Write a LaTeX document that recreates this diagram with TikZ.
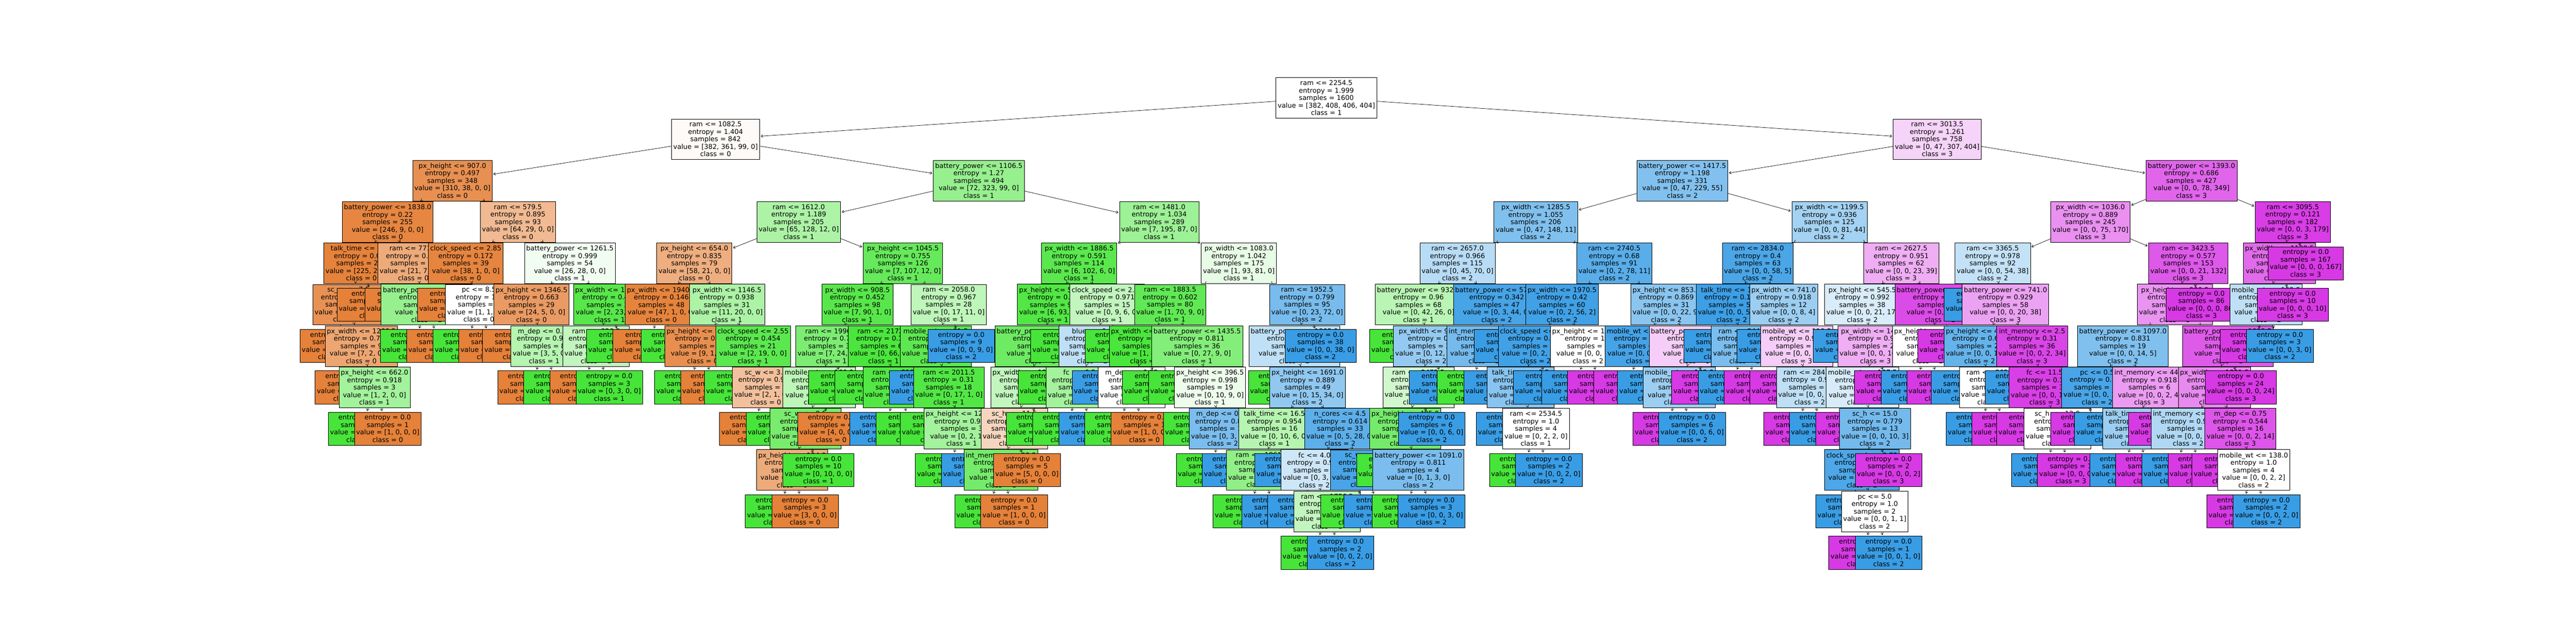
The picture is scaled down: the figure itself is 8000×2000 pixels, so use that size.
\documentclass[tikz,border=0pt]{standalone}
\usepackage{fontspec}
\setmainfont{DejaVu Sans}
\usepackage{tikz}
\usetikzlibrary{arrows.meta}
\definecolor{c0}{HTML}{E58139}
\definecolor{c1}{HTML}{47E539}
\definecolor{c2}{HTML}{399DE5}
\definecolor{c3}{HTML}{D739E5}
\newcommand{\tsplit}[5]{#1\\entropy = #2\\samples = #3\\value = [#4]\\class = #5}
\newcommand{\tleaf}[3]{entropy = 0.0\\samples = #1\\value = [#2]\\class = #3}
\tikzset{
  box/.style={draw, line width=0.55pt, anchor=west, align=center, inner xsep=2.75pt, inner ysep=4.35pt, font=\fontsize{10.4pt}{11.6pt}\selectfont},
  arr/.style={-{Straight Barb[length=3pt, width=4.2pt]}, line width=0.55pt, shorten >=1.5pt}
}

\begin{document}
\begin{tikzpicture}[x=0.5pt, y=-0.5pt]
\useasboundingbox (0,0) rectangle (8000,2000);

% root
\node [box, fill=white] (t) at (3962, 304) {\tsplit{ram <= 2254.5}{1.999}{1600}{382, 408, 406, 404}{1}};

% left half
\node [box, fill=c0!4] (tl) at (2085, 432.4) {\tsplit{ram <= 1082.5}{1.404}{842}{382, 361, 99, 0}{0}};
\draw [arr] (t) -- (tl);
\node [box, fill=c0!88] (tll) at (1281, 560.8) {\tsplit{px\_height <= 907.0}{0.497}{348}{310, 38, 0, 0}{0}};
\draw [arr] (tl) -- (tll);
\node [box, fill=c0!96] (tlll) at (1062, 689.2) {\tsplit{battery\_power <= 1838.0}{0.22}{255}{246, 9, 0, 0}{0}};
\draw [arr] (tll) -- (tlll);
\node [box, fill=c0!99] (tllll) at (1005, 817.6) {\tsplit{talk\_time <= 19.5}{0.073}{227}{225, 2, 0, 0}{0}};
\draw [arr] (tlll) -- (tllll);
\node [box, fill=c0!87] (tlllll) at (971, 946) {\tsplit{sc\_w <= 7.5}{0.523}{17}{15, 2, 0, 0}{0}};
\draw [arr] (tllll) -- (tlllll);
\node [box, fill=c0] (tllllll) at (931, 1074.4) {\tleaf{8}{8, 0, 0, 0}{0}};
\draw [arr] (tlllll) -- (tllllll);
\node [box, fill=c0!71] (tlllllr) at (1009, 1074.4) {\tsplit{px\_width <= 1266.5}{0.764}{9}{7, 2, 0, 0}{0}};
\draw [arr] (tlllll) -- (tlllllr);
\node [box, fill=c0] (tlllllrl) at (978, 1202.8) {\tleaf{6}{6, 0, 0, 0}{0}};
\draw [arr] (tlllllr) -- (tlllllrl);
\node [box, fill=c1!50] (tlllllrr) at (1052, 1202.8) {\tsplit{px\_height <= 662.0}{0.918}{3}{1, 2, 0, 0}{1}};
\draw [arr] (tlllllr) -- (tlllllrr);
\node [box, fill=c1] (tlllllrrl) at (1019, 1331.2) {\tleaf{2}{0, 2, 0, 0}{1}};
\draw [arr] (tlllllrr) -- (tlllllrrl);
\node [box, fill=c0] (tlllllrrr) at (1100, 1331.2) {\tleaf{1}{1, 0, 0, 0}{0}};
\draw [arr] (tlllllrr) -- (tlllllrrr);
\node [box, fill=c0] (tllllr) at (1046, 946) {\tleaf{210}{210, 0, 0, 0}{0}};
\draw [arr] (tllll) -- (tllllr);
\node [box, fill=c0!67] (tlllr) at (1173, 817.6) {\tsplit{ram <= 771.5}{0.811}{28}{21, 7, 0, 0}{0}};
\draw [arr] (tlll) -- (tlllr);
\node [box, fill=c0] (tlllrl) at (1133, 946) {\tleaf{18}{18, 0, 0, 0}{0}};
\draw [arr] (tlllr) -- (tlllrl);
\node [box, fill=c1!57] (tlllrr) at (1183, 946) {\tsplit{battery\_power <= 1519.0}{0.881}{10}{3, 7, 0, 0}{1}};
\draw [arr] (tlllr) -- (tlllrr);
\node [box, fill=c1] (tlllrrl) at (1181, 1074.4) {\tleaf{7}{0, 7, 0, 0}{1}};
\draw [arr] (tlllrr) -- (tlllrrl);
\node [box, fill=c0] (tlllrrr) at (1262, 1074.4) {\tleaf{3}{3, 0, 0, 0}{0}};
\draw [arr] (tlllrr) -- (tlllrrr);
\node [box, fill=c0!55] (tllr) at (1491, 689.2) {\tsplit{ram <= 579.5}{0.895}{93}{64, 29, 0, 0}{0}};
\draw [arr] (tll) -- (tllr);
\node [box, fill=c0!97] (tllrl) at (1330, 817.6) {\tsplit{clock\_speed <= 2.85}{0.172}{39}{38, 1, 0, 0}{0}};
\draw [arr] (tllr) -- (tllrl);
\node [box, fill=c0] (tllrll) at (1296, 946) {\tleaf{37}{37, 0, 0, 0}{0}};
\draw [arr] (tllrl) -- (tllrll);
\node [box, fill=white] (tllrlr) at (1383, 946) {\tsplit{pc <= 8.5}{1.0}{2}{1, 1, 0, 0}{0}};
\draw [arr] (tllrl) -- (tllrlr);
\node [box, fill=c1] (tllrlrl) at (1344, 1074.4) {\tleaf{1}{0, 1, 0, 0}{1}};
\draw [arr] (tllrlr) -- (tllrlrl);
\node [box, fill=c0] (tllrlrr) at (1424, 1074.4) {\tleaf{1}{1, 0, 0, 0}{0}};
\draw [arr] (tllrlr) -- (tllrlrr);
\node [box, fill=c1!7] (tllrr) at (1628, 817.6) {\tsplit{battery\_power <= 1261.5}{0.999}{54}{26, 28, 0, 0}{1}};
\draw [arr] (tllr) -- (tllrr);
\node [box, fill=c0!79] (tllrrl) at (1533, 946) {\tsplit{px\_height <= 1346.5}{0.663}{29}{24, 5, 0, 0}{0}};
\draw [arr] (tllrr) -- (tllrrl);
\node [box, fill=c0] (tllrrll) at (1498, 1074.4) {\tleaf{21}{21, 0, 0, 0}{0}};
\draw [arr] (tllrrl) -- (tllrrll);
\node [box, fill=c1!40] (tllrrlr) at (1586, 1074.4) {\tsplit{m\_dep <= 0.15}{0.954}{8}{3, 5, 0, 0}{1}};
\draw [arr] (tllrrl) -- (tllrrlr);
\node [box, fill=c0] (tllrrlrl) at (1545, 1202.8) {\tleaf{3}{3, 0, 0, 0}{0}};
\draw [arr] (tllrrlr) -- (tllrrlrl);
\node [box, fill=c1] (tllrrlrr) at (1626, 1202.8) {\tleaf{5}{0, 5, 0, 0}{1}};
\draw [arr] (tllrrlr) -- (tllrrlrr);
\node [box, fill=c1!91] (tllrrr) at (1780, 946) {\tsplit{px\_width <= 1119.5}{0.402}{25}{2, 23, 0, 0}{1}};
\draw [arr] (tllrr) -- (tllrrr);
\node [box, fill=c1!33] (tllrrrl) at (1747, 1074.4) {\tsplit{ram <= 826.5}{0.971}{5}{2, 3, 0, 0}{1}};
\draw [arr] (tllrrr) -- (tllrrrl);
\node [box, fill=c0] (tllrrrll) at (1707, 1202.8) {\tleaf{2}{2, 0, 0, 0}{0}};
\draw [arr] (tllrrrl) -- (tllrrrll);
\node [box, fill=c1] (tllrrrlr) at (1788, 1202.8) {\tleaf{3}{0, 3, 0, 0}{1}};
\draw [arr] (tllrrrl) -- (tllrrrlr);
\node [box, fill=c1] (tllrrrr) at (1821, 1074.4) {\tleaf{20}{0, 20, 0, 0}{1}};
\draw [arr] (tllrrr) -- (tllrrrr);
\node [box, fill=c1!57] (tlr) at (2898, 560.8) {\tsplit{battery\_power <= 1106.5}{1.27}{494}{72, 323, 99, 0}{1}};
\draw [arr] (tl) -- (tlr);
\node [box, fill=c1!45] (tlrl) at (2350, 689.2) {\tsplit{ram <= 1612.0}{1.189}{205}{65, 128, 12, 0}{1}};
\draw [arr] (tlr) -- (tlrl);
\node [box, fill=c0!64] (tlrll) at (2039, 817.6) {\tsplit{px\_height <= 654.0}{0.835}{79}{58, 21, 0, 0}{0}};
\draw [arr] (tlrl) -- (tlrll);
\node [box, fill=c0!98] (tlrlll) at (1941, 946) {\tsplit{px\_width <= 1940.5}{0.146}{48}{47, 1, 0, 0}{0}};
\draw [arr] (tlrll) -- (tlrlll);
\node [box, fill=c0] (tlrllll) at (1903, 1074.4) {\tleaf{47}{47, 0, 0, 0}{0}};
\draw [arr] (tlrlll) -- (tlrllll);
\node [box, fill=c1] (tlrlllr) at (1991, 1074.4) {\tleaf{1}{0, 1, 0, 0}{1}};
\draw [arr] (tlrlll) -- (tlrlllr);
\node [box, fill=c1!45] (tlrllr) at (2140, 946) {\tsplit{px\_width <= 1146.5}{0.938}{31}{11, 20, 0, 0}{1}};
\draw [arr] (tlrll) -- (tlrllr);
\node [box, fill=c0!89] (tlrllrl) at (2064, 1074.4) {\tsplit{px\_height <= 1413.5}{0.469}{10}{9, 1, 0, 0}{0}};
\draw [arr] (tlrllr) -- (tlrllrl);
\node [box, fill=c1] (tlrllrll) at (2032, 1202.8) {\tleaf{1}{0, 1, 0, 0}{1}};
\draw [arr] (tlrllrl) -- (tlrllrll);
\node [box, fill=c0] (tlrllrlr) at (2113, 1202.8) {\tleaf{9}{9, 0, 0, 0}{0}};
\draw [arr] (tlrllrl) -- (tlrllrlr);
\node [box, fill=c1!89] (tlrllrr) at (2222, 1074.4) {\tsplit{clock\_speed <= 2.55}{0.454}{21}{2, 19, 0, 0}{1}};
\draw [arr] (tlrllr) -- (tlrllrr);
\node [box, fill=c1] (tlrllrrl) at (2187, 1202.8) {\tleaf{18}{0, 18, 0, 0}{1}};
\draw [arr] (tlrllrr) -- (tlrllrrl);
\node [box, fill=c0!50] (tlrllrrr) at (2274, 1202.8) {\tsplit{sc\_w <= 3.5}{0.918}{3}{2, 1, 0, 0}{0}};
\draw [arr] (tlrllrr) -- (tlrllrrr);
\node [box, fill=c0] (tlrllrrrl) at (2234, 1331.2) {\tleaf{2}{2, 0, 0, 0}{0}};
\draw [arr] (tlrllrrr) -- (tlrllrrrl);
\node [box, fill=c1] (tlrllrrrr) at (2316, 1331.2) {\tleaf{1}{0, 1, 0, 0}{1}};
\draw [arr] (tlrllrrr) -- (tlrllrrrr);
\node [box, fill=c1!83] (tlrlr) at (2680, 817.6) {\tsplit{px\_height <= 1045.5}{0.755}{126}{7, 107, 12, 0}{1}};
\draw [arr] (tlrl) -- (tlrlr);
\node [box, fill=c1!91] (tlrlrl) at (2552, 946) {\tsplit{px\_width <= 908.5}{0.452}{98}{7, 90, 1, 0}{1}};
\draw [arr] (tlrlr) -- (tlrlrl);
\node [box, fill=c1!71] (tlrlrll) at (2471, 1074.4) {\tsplit{ram <= 1996.5}{0.771}{31}{7, 24, 0, 0}{1}};
\draw [arr] (tlrlrl) -- (tlrlrll);
\node [box, fill=c1!36] (tlrlrlll) at (2431, 1202.8) {\tsplit{mobile\_wt <= 160.0}{0.964}{18}{7, 11, 0, 0}{1}};
\draw [arr] (tlrlrll) -- (tlrlrlll);
\node [box, fill=c1!73] (tlrlrllll) at (2390, 1331.2) {\tsplit{sc\_w <= 8.5}{0.75}{14}{3, 11, 0, 0}{1}};
\draw [arr] (tlrlrlll) -- (tlrlrllll);
\node [box, fill=c0!67] (tlrlrlllll) at (2349, 1459.6) {\tsplit{px\_height <= 124.0}{0.811}{4}{3, 1, 0, 0}{0}};
\draw [arr] (tlrlrllll) -- (tlrlrlllll);
\node [box, fill=c1] (tlrlrllllll) at (2314, 1588) {\tleaf{1}{0, 1, 0, 0}{1}};
\draw [arr] (tlrlrlllll) -- (tlrlrllllll);
\node [box, fill=c0] (tlrlrlllllr) at (2396, 1588) {\tleaf{3}{3, 0, 0, 0}{0}};
\draw [arr] (tlrlrlllll) -- (tlrlrlllllr);
\node [box, fill=c1] (tlrlrllllr) at (2431, 1459.6) {\tleaf{10}{0, 10, 0, 0}{1}};
\draw [arr] (tlrlrllll) -- (tlrlrllllr);
\node [box, fill=c0] (tlrlrlllr) at (2477, 1331.2) {\tleaf{4}{4, 0, 0, 0}{0}};
\draw [arr] (tlrlrlll) -- (tlrlrlllr);
\node [box, fill=c1] (tlrlrllr) at (2510, 1202.8) {\tleaf{13}{0, 13, 0, 0}{1}};
\draw [arr] (tlrlrll) -- (tlrlrllr);
\node [box, fill=c1!98] (tlrlrlr) at (2633, 1074.4) {\tsplit{ram <= 2172.0}{0.112}{67}{0, 66, 1, 0}{1}};
\draw [arr] (tlrlrl) -- (tlrlrlr);
\node [box, fill=c1] (tlrlrlrl) at (2592, 1202.8) {\tleaf{50}{0, 50, 0, 0}{1}};
\draw [arr] (tlrlrlr) -- (tlrlrlrl);
\node [box, fill=c1!94] (tlrlrlrr) at (2680, 1202.8) {\tsplit{ram <= 2183.5}{0.323}{17}{0, 16, 1, 0}{1}};
\draw [arr] (tlrlrlr) -- (tlrlrlrr);
\node [box, fill=c2] (tlrlrlrrl) at (2638, 1331.2) {\tleaf{1}{0, 0, 1, 0}{2}};
\draw [arr] (tlrlrlrr) -- (tlrlrlrrl);
\node [box, fill=c1] (tlrlrlrrr) at (2720, 1331.2) {\tleaf{16}{0, 16, 0, 0}{1}};
\draw [arr] (tlrlrlrr) -- (tlrlrlrrr);
\node [box, fill=c1!35] (tlrlrr) at (2829, 946) {\tsplit{ram <= 2058.0}{0.967}{28}{0, 17, 11, 0}{1}};
\draw [arr] (tlrlr) -- (tlrlrr);
\node [box, fill=c1!88] (tlrlrrl) at (2795, 1074.4) {\tsplit{mobile\_wt <= 81.5}{0.485}{19}{0, 17, 2, 0}{1}};
\draw [arr] (tlrlrr) -- (tlrlrrl);
\node [box, fill=c2] (tlrlrrll) at (2762, 1202.8) {\tleaf{1}{0, 0, 1, 0}{2}};
\draw [arr] (tlrlrrl) -- (tlrlrrll);
\node [box, fill=c1!94] (tlrlrrlr) at (2836, 1202.8) {\tsplit{ram <= 2011.5}{0.31}{18}{0, 17, 1, 0}{1}};
\draw [arr] (tlrlrrl) -- (tlrlrrlr);
\node [box, fill=c1] (tlrlrrlrl) at (2795, 1331.2) {\tleaf{15}{0, 15, 0, 0}{1}};
\draw [arr] (tlrlrrlr) -- (tlrlrrlrl);
\node [box, fill=c1!50] (tlrlrrlrr) at (2869, 1331.2) {\tsplit{px\_height <= 1237.5}{0.918}{3}{0, 2, 1, 0}{1}};
\draw [arr] (tlrlrrlr) -- (tlrlrrlrr);
\node [box, fill=c1] (tlrlrrlrrl) at (2842, 1459.6) {\tleaf{2}{0, 2, 0, 0}{1}};
\draw [arr] (tlrlrrlrr) -- (tlrlrrlrrl);
\node [box, fill=c2] (tlrlrrlrrr) at (2923, 1459.6) {\tleaf{1}{0, 0, 1, 0}{2}};
\draw [arr] (tlrlrrlrr) -- (tlrlrrlrrr);
\node [box, fill=c2] (tlrlrrr) at (2881, 1074.4) {\tleaf{9}{0, 0, 9, 0}{2}};
\draw [arr] (tlrlrr) -- (tlrlrrr);
\node [box, fill=c1!53] (tlrr) at (3476, 689.2) {\tsplit{ram <= 1481.0}{1.034}{289}{7, 195, 87, 0}{1}};
\draw [arr] (tlr) -- (tlrr);
\node [box, fill=c1!89] (tlrrl) at (3234, 817.6) {\tsplit{px\_width <= 1886.5}{0.591}{114}{6, 102, 6, 0}{1}};
\draw [arr] (tlrr) -- (tlrrl);
\node [box, fill=c1!94] (tlrrll) at (3159, 946) {\tsplit{px\_height <= 527.5}{0.33}{99}{6, 93, 0, 0}{1}};
\draw [arr] (tlrrl) -- (tlrrll);
\node [box, fill=c1!79] (tlrrlll) at (3089, 1074.4) {\tsplit{battery\_power <= 1794.5}{0.661}{35}{6, 29, 0, 0}{1}};
\draw [arr] (tlrrll) -- (tlrrlll);
\node [box, fill=c1!33] (tlrrllll) at (3076, 1202.8) {\tsplit{px\_width <= 1228.0}{0.971}{15}{6, 9, 0, 0}{1}};
\draw [arr] (tlrrlll) -- (tlrrllll);
\node [box, fill=c0!33] (tlrrlllll) at (3046, 1331.2) {\tsplit{sc\_h <= 11.5}{0.971}{10}{6, 4, 0, 0}{0}};
\draw [arr] (tlrrllll) -- (tlrrlllll);
\node [box, fill=c1!75] (tlrrllllll) at (2993, 1459.6) {\tsplit{int\_memory <= 53.5}{0.722}{5}{1, 4, 0, 0}{1}};
\draw [arr] (tlrrlllll) -- (tlrrllllll);
\node [box, fill=c1] (tlrrlllllll) at (2964, 1588) {\tleaf{4}{0, 4, 0, 0}{1}};
\draw [arr] (tlrrllllll) -- (tlrrlllllll);
\node [box, fill=c0] (tlrrllllllr) at (3045, 1588) {\tleaf{1}{1, 0, 0, 0}{0}};
\draw [arr] (tlrrllllll) -- (tlrrllllllr);
\node [box, fill=c0] (tlrrlllllr) at (3085, 1459.6) {\tleaf{5}{5, 0, 0, 0}{0}};
\draw [arr] (tlrrlllll) -- (tlrrlllllr);
\node [box, fill=c1] (tlrrllllr) at (3124, 1331.2) {\tleaf{5}{0, 5, 0, 0}{1}};
\draw [arr] (tlrrllll) -- (tlrrllllr);
\node [box, fill=c1] (tlrrlllr) at (3161, 1202.8) {\tleaf{20}{0, 20, 0, 0}{1}};
\draw [arr] (tlrrlll) -- (tlrrlllr);
\node [box, fill=c1] (tlrrllr) at (3200, 1074.4) {\tleaf{64}{0, 64, 0, 0}{1}};
\draw [arr] (tlrrll) -- (tlrrllr);
\node [box, fill=c1!33] (tlrrlr) at (3322, 946) {\tsplit{clock\_speed <= 2.05}{0.971}{15}{0, 9, 6, 0}{1}};
\draw [arr] (tlrrl) -- (tlrrlr);
\node [box, fill=c2!33] (tlrrlrl) at (3288, 1074.4) {\tsplit{blue <= 0.5}{0.971}{10}{0, 4, 6, 0}{2}};
\draw [arr] (tlrrlr) -- (tlrrlrl);
\node [box, fill=c1!50] (tlrrlrll) at (3248, 1202.8) {\tsplit{fc <= 6.5}{0.918}{6}{0, 4, 2, 0}{1}};
\draw [arr] (tlrrlrl) -- (tlrrlrll);
\node [box, fill=c1] (tlrrlrlll) at (3206, 1331.2) {\tleaf{4}{0, 4, 0, 0}{1}};
\draw [arr] (tlrrlrll) -- (tlrrlrlll);
\node [box, fill=c2] (tlrrlrllr) at (3288, 1331.2) {\tleaf{2}{0, 0, 2, 0}{2}};
\draw [arr] (tlrrlrll) -- (tlrrlrllr);
\node [box, fill=c2] (tlrrlrlr) at (3329, 1202.8) {\tleaf{4}{0, 0, 4, 0}{2}};
\draw [arr] (tlrrlrl) -- (tlrrlrlr);
\node [box, fill=c1] (tlrrlrr) at (3369, 1074.4) {\tleaf{5}{0, 5, 0, 0}{1}};
\draw [arr] (tlrrlr) -- (tlrrlrr);
\node [box, fill=c1!13] (tlrrr) at (3730, 817.6) {\tsplit{px\_width <= 1083.0}{1.042}{175}{1, 93, 81, 0}{1}};
\draw [arr] (tlrr) -- (tlrrr);
\node [box, fill=c1!86] (tlrrrl) at (3523, 946) {\tsplit{ram <= 1883.5}{0.602}{80}{1, 70, 9, 0}{1}};
\draw [arr] (tlrrr) -- (tlrrrl);
\node [box, fill=c1!98] (tlrrrll) at (3444, 1074.4) {\tsplit{px\_width <= 1763.0}{0.156}{44}{1, 43, 0, 0}{1}};
\draw [arr] (tlrrrl) -- (tlrrrll);
\node [box, fill=white] (tlrrrlll) at (3410, 1202.8) {\tsplit{m\_dep <= 0.85}{1.0}{2}{1, 1, 0, 0}{0}};
\draw [arr] (tlrrrll) -- (tlrrrlll);
\node [box, fill=c1] (tlrrrllll) at (3368, 1331.2) {\tleaf{1}{0, 1, 0, 0}{1}};
\draw [arr] (tlrrrlll) -- (tlrrrllll);
\node [box, fill=c0] (tlrrrlllr) at (3450, 1331.2) {\tleaf{1}{1, 0, 0, 0}{0}};
\draw [arr] (tlrrrlll) -- (tlrrrlllr);
\node [box, fill=c1] (tlrrrllr) at (3485, 1202.8) {\tleaf{42}{0, 42, 0, 0}{1}};
\draw [arr] (tlrrrll) -- (tlrrrllr);
\node [box, fill=c1!67] (tlrrrlr) at (3576, 1074.4) {\tsplit{battery\_power <= 1435.5}{0.811}{36}{0, 27, 9, 0}{1}};
\draw [arr] (tlrrrl) -- (tlrrrlr);
\node [box, fill=c1] (tlrrrlrl) at (3566, 1202.8) {\tleaf{17}{0, 17, 0, 0}{1}};
\draw [arr] (tlrrrlr) -- (tlrrrlrl);
\node [box, fill=c1!10] (tlrrrlrr) at (3647, 1202.8) {\tsplit{px\_height <= 396.5}{0.998}{19}{0, 10, 9, 0}{1}};
\draw [arr] (tlrrrlr) -- (tlrrrlrr);
\node [box, fill=c1] (tlrrrlrrl) at (3612, 1331.2) {\tleaf{7}{0, 7, 0, 0}{1}};
\draw [arr] (tlrrrlrr) -- (tlrrrlrrl);
\node [box, fill=c2!67] (tlrrrlrrr) at (3693, 1331.2) {\tsplit{m\_dep <= 0.45}{0.811}{12}{0, 3, 9, 0}{2}};
\draw [arr] (tlrrrlrr) -- (tlrrrlrrr);
\node [box, fill=c1] (tlrrrlrrrl) at (3652, 1459.6) {\tleaf{3}{0, 3, 0, 0}{1}};
\draw [arr] (tlrrrlrrr) -- (tlrrrlrrrl);
\node [box, fill=c2] (tlrrrlrrrr) at (3733, 1459.6) {\tleaf{9}{0, 0, 9, 0}{2}};
\draw [arr] (tlrrrlrrr) -- (tlrrrlrrrr);
\node [box, fill=c2!68] (tlrrrr) at (3942, 946) {\tsplit{ram <= 1952.5}{0.799}{95}{0, 23, 72, 0}{2}};
\draw [arr] (tlrrr) -- (tlrrrr);
\node [box, fill=c2!32] (tlrrrrl) at (3878, 1074.4) {\tsplit{battery\_power <= 1305.0}{0.973}{57}{0, 23, 34, 0}{2}};
\draw [arr] (tlrrrr) -- (tlrrrrl);
\node [box, fill=c1] (tlrrrrll) at (3876, 1202.8) {\tleaf{8}{0, 8, 0, 0}{1}};
\draw [arr] (tlrrrrl) -- (tlrrrrll);
\node [box, fill=c2!56] (tlrrrrlr) at (3943, 1202.8) {\tsplit{px\_height <= 1691.0}{0.889}{49}{0, 15, 34, 0}{2}};
\draw [arr] (tlrrrrl) -- (tlrrrrlr);
\node [box, fill=c1!40] (tlrrrrlrl) at (3847, 1331.2) {\tsplit{talk\_time <= 16.5}{0.954}{16}{0, 10, 6, 0}{1}};
\draw [arr] (tlrrrrlr) -- (tlrrrrlrl);
\node [box, fill=c1!60] (tlrrrrlrll) at (3808, 1459.6) {\tsplit{ram <= 1861.5}{0.863}{14}{0, 10, 4, 0}{1}};
\draw [arr] (tlrrrrlrl) -- (tlrrrrlrll);
\node [box, fill=c1] (tlrrrrlrlll) at (3767, 1588) {\tleaf{10}{0, 10, 0, 0}{1}};
\draw [arr] (tlrrrrlrll) -- (tlrrrrlrlll);
\node [box, fill=c2] (tlrrrrlrllr) at (3856, 1588) {\tleaf{4}{0, 0, 4, 0}{2}};
\draw [arr] (tlrrrrlrll) -- (tlrrrrlrllr);
\node [box, fill=c2] (tlrrrrlrlr) at (3896, 1459.6) {\tleaf{2}{0, 0, 2, 0}{2}};
\draw [arr] (tlrrrrlrl) -- (tlrrrrlrlr);
\node [box, fill=c2!82] (tlrrrrlrr) at (4051, 1331.2) {\tsplit{n\_cores <= 4.5}{0.614}{33}{0, 5, 28, 0}{2}};
\draw [arr] (tlrrrrlr) -- (tlrrrrlrr);
\node [box, fill=c2!25] (tlrrrrlrrl) at (3978, 1459.6) {\tsplit{fc <= 4.0}{0.985}{7}{0, 3, 4, 0}{2}};
\draw [arr] (tlrrrrlrr) -- (tlrrrrlrrl);
\node [box, fill=c2] (tlrrrrlrrll) at (3936, 1588) {\tleaf{2}{0, 0, 2, 0}{2}};
\draw [arr] (tlrrrrlrrl) -- (tlrrrrlrrll);
\node [box, fill=c1!33] (tlrrrrlrrlr) at (4017, 1588) {\tsplit{ram <= 1756.5}{0.971}{5}{0, 3, 2, 0}{1}};
\draw [arr] (tlrrrrlrrl) -- (tlrrrrlrrlr);
\node [box, fill=c1] (tlrrrrlrrlrl) at (3977, 1716.4) {\tleaf{3}{0, 3, 0, 0}{1}};
\draw [arr] (tlrrrrlrrlr) -- (tlrrrrlrrlrl);
\node [box, fill=c2] (tlrrrrlrrlrr) at (4059, 1716.4) {\tleaf{2}{0, 0, 2, 0}{2}};
\draw [arr] (tlrrrrlrrlr) -- (tlrrrrlrrlrr);
\node [box, fill=c2!92] (tlrrrrlrrr) at (4131, 1459.6) {\tsplit{sc\_w <= 2.5}{0.391}{26}{0, 2, 24, 0}{2}};
\draw [arr] (tlrrrrlrr) -- (tlrrrrlrrr);
\node [box, fill=c1] (tlrrrrlrrrl) at (4100, 1588) {\tleaf{2}{0, 2, 0, 0}{1}};
\draw [arr] (tlrrrrlrrr) -- (tlrrrrlrrrl);
\node [box, fill=c2] (tlrrrrlrrrr) at (4173, 1588) {\tleaf{24}{0, 0, 24, 0}{2}};
\draw [arr] (tlrrrrlrrr) -- (tlrrrrlrrrr);
\node [box, fill=c2] (tlrrrrr) at (3990, 1074.4) {\tleaf{38}{0, 0, 38, 0}{2}};
\draw [arr] (tlrrrr) -- (tlrrrrr);

% right half
\node [box, fill=c3!22] (tr) at (5879, 432.4) {\tsplit{ram <= 3013.5}{1.261}{758}{0, 47, 307, 404}{3}};
\draw [arr] (t) -- (tr);
\node [box, fill=c2!63] (trl) at (5083, 560.8) {\tsplit{battery\_power <= 1417.5}{1.198}{331}{0, 47, 229, 55}{2}};
\draw [arr] (tr) -- (trl);
\node [box, fill=c2!64] (trll) at (4639, 689.2) {\tsplit{px\_width <= 1285.5}{1.055}{206}{0, 47, 148, 11}{2}};
\draw [arr] (trl) -- (trll);
\node [box, fill=c2!36] (trlll) at (4409, 817.6) {\tsplit{ram <= 2657.0}{0.966}{115}{0, 45, 70, 0}{2}};
\draw [arr] (trll) -- (trlll);
\node [box, fill=c1!38] (trllll) at (4270, 946) {\tsplit{battery\_power <= 932.5}{0.96}{68}{0, 42, 26, 0}{1}};
\draw [arr] (trlll) -- (trllll);
\node [box, fill=c1] (trlllll) at (4253, 1074.4) {\tleaf{30}{0, 30, 0, 0}{1}};
\draw [arr] (trllll) -- (trlllll);
\node [box, fill=c2!54] (trllllr) at (4327, 1074.4) {\tsplit{px\_width <= 961.0}{0.9}{38}{0, 12, 26, 0}{2}};
\draw [arr] (trllll) -- (trllllr);
\node [box, fill=c1!25] (trllllrl) at (4294, 1202.8) {\tsplit{ram <= 2475.5}{0.985}{21}{0, 12, 9, 0}{1}};
\draw [arr] (trllllr) -- (trllllrl);
\node [box, fill=c1!75] (trllllrll) at (4253, 1331.2) {\tsplit{px\_height <= 485.0}{0.722}{15}{0, 12, 3, 0}{1}};
\draw [arr] (trllllrl) -- (trllllrll);
\node [box, fill=c1] (trllllrlll) at (4212, 1459.6) {\tleaf{11}{0, 11, 0, 0}{1}};
\draw [arr] (trllllrll) -- (trllllrlll);
\node [box, fill=c2!67] (trllllrllr) at (4263, 1459.6) {\tsplit{battery\_power <= 1091.0}{0.811}{4}{0, 1, 3, 0}{2}};
\draw [arr] (trllllrll) -- (trllllrllr);
\node [box, fill=c1] (trllllrllrl) at (4260, 1588) {\tleaf{1}{0, 1, 0, 0}{1}};
\draw [arr] (trllllrllr) -- (trllllrllrl);
\node [box, fill=c2] (trllllrllrr) at (4341, 1588) {\tleaf{3}{0, 0, 3, 0}{2}};
\draw [arr] (trllllrllr) -- (trllllrllrr);
\node [box, fill=c2] (trllllrlr) at (4342, 1331.2) {\tleaf{6}{0, 0, 6, 0}{2}};
\draw [arr] (trllllrl) -- (trllllrlr);
\node [box, fill=c2] (trllllrr) at (4376, 1202.8) {\tleaf{17}{0, 0, 17, 0}{2}};
\draw [arr] (trllllr) -- (trllllrr);
\node [box, fill=c2!93] (trlllr) at (4513, 946) {\tsplit{battery\_power <= 574.5}{0.342}{47}{0, 3, 44, 0}{2}};
\draw [arr] (trlll) -- (trlllr);
\node [box, fill=c2!70] (trlllrl) at (4493, 1074.4) {\tsplit{int\_memory <= 31.5}{0.779}{13}{0, 3, 10, 0}{2}};
\draw [arr] (trlllr) -- (trlllrl);
\node [box, fill=c1] (trlllrll) at (4462, 1202.8) {\tleaf{3}{0, 3, 0, 0}{1}};
\draw [arr] (trlllrl) -- (trlllrll);
\node [box, fill=c2] (trlllrlr) at (4545, 1202.8) {\tleaf{10}{0, 0, 10, 0}{2}};
\draw [arr] (trlllrl) -- (trlllrlr);
\node [box, fill=c2] (trlllrr) at (4577, 1074.4) {\tleaf{34}{0, 0, 34, 0}{2}};
\draw [arr] (trlllr) -- (trlllrr);
\node [box, fill=c2!84] (trllr) at (4896, 817.6) {\tsplit{ram <= 2740.5}{0.68}{91}{0, 2, 78, 11}{2}};
\draw [arr] (trll) -- (trllr);
\node [box, fill=c2!96] (trllrl) at (4738, 946) {\tsplit{px\_width <= 1970.5}{0.42}{60}{0, 2, 56, 2}{2}};
\draw [arr] (trllr) -- (trllrl);
\node [box, fill=c2!96] (trllrll) at (4652, 1074.4) {\tsplit{clock\_speed <= 0.95}{0.341}{58}{0, 2, 55, 1}{2}};
\draw [arr] (trllrl) -- (trllrll);
\node [box, fill=c2!60] (trllrlll) at (4618, 1202.8) {\tsplit{talk\_time <= 6.5}{0.863}{7}{0, 2, 5, 0}{2}};
\draw [arr] (trllrll) -- (trllrlll);
\node [box, fill=c2] (trllrllll) at (4584, 1331.2) {\tleaf{3}{0, 0, 3, 0}{2}};
\draw [arr] (trllrlll) -- (trllrllll);
\node [box, fill=white] (trllrlllr) at (4666, 1331.2) {\tsplit{ram <= 2534.5}{1.0}{4}{0, 2, 2, 0}{1}};
\draw [arr] (trllrlll) -- (trllrlllr);
\node [box, fill=c1] (trllrlllrl) at (4625, 1459.6) {\tleaf{2}{0, 2, 0, 0}{1}};
\draw [arr] (trllrlllr) -- (trllrlllrl);
\node [box, fill=c2] (trllrlllrr) at (4706, 1459.6) {\tleaf{2}{0, 0, 2, 0}{2}};
\draw [arr] (trllrlllr) -- (trllrlllrr);
\node [box, fill=c2] (trllrllr) at (4699, 1202.8) {\tleaf{51}{0, 0, 51, 0}{2}};
\draw [arr] (trllrll) -- (trllrllr);
\node [box, fill=white] (trllrlr) at (4814, 1074.4) {\tsplit{px\_height <= 1422.0}{1.0}{2}{0, 0, 1, 1}{2}};
\draw [arr] (trllrl) -- (trllrlr);
\node [box, fill=c2] (trllrlrl) at (4787, 1202.8) {\tleaf{1}{0, 0, 1, 0}{2}};
\draw [arr] (trllrlr) -- (trllrlrl);
\node [box, fill=c3] (trllrlrr) at (4867, 1202.8) {\tleaf{1}{0, 0, 0, 1}{3}};
\draw [arr] (trllrlr) -- (trllrlrr);
\node [box, fill=c2!59] (trllrr) at (5064, 946) {\tsplit{px\_height <= 853.5}{0.869}{31}{0, 0, 22, 9}{2}};
\draw [arr] (trllr) -- (trllrr);
\node [box, fill=c2!94] (trllrrl) at (4984, 1074.4) {\tsplit{mobile\_wt <= 195.5}{0.323}{17}{0, 0, 16, 1}{2}};
\draw [arr] (trllrr) -- (trllrrl);
\node [box, fill=c3] (trllrrll) at (4949, 1202.8) {\tleaf{1}{0, 0, 0, 1}{3}};
\draw [arr] (trllrrl) -- (trllrrll);
\node [box, fill=c2] (trllrrlr) at (5023, 1202.8) {\tleaf{16}{0, 0, 16, 0}{2}};
\draw [arr] (trllrrl) -- (trllrrlr);
\node [box, fill=c3!25] (trllrrr) at (5121, 1074.4) {\tsplit{battery\_power <= 1256.0}{0.985}{14}{0, 0, 6, 8}{3}};
\draw [arr] (trllrr) -- (trllrrr);
\node [box, fill=c2!50] (trllrrrl) at (5102, 1202.8) {\tsplit{mobile\_wt <= 102.0}{0.918}{9}{0, 0, 6, 3}{2}};
\draw [arr] (trllrrr) -- (trllrrrl);
\node [box, fill=c3] (trllrrrll) at (5071, 1331.2) {\tleaf{3}{0, 0, 0, 3}{3}};
\draw [arr] (trllrrrl) -- (trllrrrll);
\node [box, fill=c2] (trllrrrlr) at (5151, 1331.2) {\tleaf{6}{0, 0, 6, 0}{2}};
\draw [arr] (trllrrrl) -- (trllrrrlr);
\node [box, fill=c3] (trllrrrr) at (5191, 1202.8) {\tleaf{5}{0, 0, 0, 5}{3}};
\draw [arr] (trllrrr) -- (trllrrrr);
\node [box, fill=c2!46] (trlr) at (5564, 689.2) {\tsplit{px\_width <= 1199.5}{0.936}{125}{0, 0, 81, 44}{2}};
\draw [arr] (trl) -- (trlr);
\node [box, fill=c2!91] (trlrl) at (5348, 817.6) {\tsplit{ram <= 2834.0}{0.4}{63}{0, 0, 58, 5}{2}};
\draw [arr] (trlr) -- (trlrl);
\node [box, fill=c2!98] (trlrll) at (5267, 946) {\tsplit{talk\_time <= 18.5}{0.139}{51}{0, 0, 50, 1}{2}};
\draw [arr] (trlrl) -- (trlrll);
\node [box, fill=c2] (trlrlll) at (5228, 1074.4) {\tleaf{47}{0, 0, 47, 0}{2}};
\draw [arr] (trlrll) -- (trlrlll);
\node [box, fill=c2!67] (trlrllr) at (5314, 1074.4) {\tsplit{ram <= 2441.5}{0.811}{4}{0, 0, 3, 1}{2}};
\draw [arr] (trlrll) -- (trlrllr);
\node [box, fill=c2] (trlrllrl) at (5273, 1202.8) {\tleaf{3}{0, 0, 3, 0}{2}};
\draw [arr] (trlrllr) -- (trlrllrl);
\node [box, fill=c3] (trlrllrr) at (5354, 1202.8) {\tleaf{1}{0, 0, 0, 1}{3}};
\draw [arr] (trlrllr) -- (trlrllrr);
\node [box, fill=c2!50] (trlrlr) at (5433, 946) {\tsplit{px\_width <= 741.0}{0.918}{12}{0, 0, 8, 4}{2}};
\draw [arr] (trlrl) -- (trlrlr);
\node [box, fill=c2] (trlrlrl) at (5394, 1074.4) {\tleaf{5}{0, 0, 5, 0}{2}};
\draw [arr] (trlrlr) -- (trlrlrl);
\node [box, fill=c3!25] (trlrlrr) at (5467, 1074.4) {\tsplit{mobile\_wt <= 110.5}{0.985}{7}{0, 0, 3, 4}{3}};
\draw [arr] (trlrlr) -- (trlrlrr);
\node [box, fill=c3] (trlrlrrl) at (5434, 1202.8) {\tleaf{2}{0, 0, 0, 2}{3}};
\draw [arr] (trlrlrr) -- (trlrlrrl);
\node [box, fill=c2!33] (trlrlrrr) at (5516, 1202.8) {\tsplit{ram <= 2843.5}{0.971}{5}{0, 0, 3, 2}{2}};
\draw [arr] (trlrlrr) -- (trlrlrrr);
\node [box, fill=c3] (trlrlrrrl) at (5476, 1331.2) {\tleaf{2}{0, 0, 0, 2}{3}};
\draw [arr] (trlrlrrr) -- (trlrlrrrl);
\node [box, fill=c2] (trlrlrrrr) at (5556, 1331.2) {\tleaf{3}{0, 0, 3, 0}{2}};
\draw [arr] (trlrlrrr) -- (trlrlrrrr);
\node [box, fill=c3!41] (trlrr) at (5787, 817.6) {\tsplit{ram <= 2627.5}{0.951}{62}{0, 0, 23, 39}{3}};
\draw [arr] (trlr) -- (trlrr);
\node [box, fill=c2!19] (trlrrl) at (5666, 946) {\tsplit{px\_height <= 545.5}{0.992}{38}{0, 0, 21, 17}{2}};
\draw [arr] (trlrr) -- (trlrrl);
\node [box, fill=c2] (trlrrll) at (5631, 1074.4) {\tleaf{11}{0, 0, 11, 0}{2}};
\draw [arr] (trlrrl) -- (trlrrll);
\node [box, fill=c3!41] (trlrrlr) at (5707, 1074.4) {\tsplit{px\_width <= 1431.5}{0.951}{27}{0, 0, 10, 17}{3}};
\draw [arr] (trlrrl) -- (trlrrlr);
\node [box, fill=c2!20] (trlrrlrl) at (5671, 1202.8) {\tsplit{mobile\_wt <= 107.5}{0.991}{18}{0, 0, 10, 8}{2}};
\draw [arr] (trlrrlr) -- (trlrrlrl);
\node [box, fill=c3] (trlrrlrll) at (5638, 1331.2) {\tleaf{5}{0, 0, 0, 5}{3}};
\draw [arr] (trlrrlrl) -- (trlrrlrll);
\node [box, fill=c2!70] (trlrrlrlr) at (5712, 1331.2) {\tsplit{sc\_h <= 15.0}{0.779}{13}{0, 0, 10, 3}{2}};
\draw [arr] (trlrrlrl) -- (trlrrlrlr);
\node [box, fill=c2!90] (trlrrlrlrl) at (5666, 1459.6) {\tsplit{clock\_speed <= 2.75}{0.439}{11}{0, 0, 10, 1}{2}};
\draw [arr] (trlrrlrlr) -- (trlrrlrlrl);
\node [box, fill=c2] (trlrrlrlrll) at (5638, 1588) {\tleaf{9}{0, 0, 9, 0}{2}};
\draw [arr] (trlrrlrlrl) -- (trlrrlrlrll);
\node [box, fill=white] (trlrrlrlrlr) at (5718, 1588) {\tsplit{pc <= 5.0}{1.0}{2}{0, 0, 1, 1}{2}};
\draw [arr] (trlrrlrlrl) -- (trlrrlrlrlr);
\node [box, fill=c3] (trlrrlrlrlrl) at (5679, 1716.4) {\tleaf{1}{0, 0, 0, 1}{3}};
\draw [arr] (trlrrlrlrlr) -- (trlrrlrlrlrl);
\node [box, fill=c2] (trlrrlrlrlrr) at (5761, 1716.4) {\tleaf{1}{0, 0, 1, 0}{2}};
\draw [arr] (trlrrlrlrlr) -- (trlrrlrlrlrr);
\node [box, fill=c3] (trlrrlrlrr) at (5761, 1459.6) {\tleaf{2}{0, 0, 0, 2}{3}};
\draw [arr] (trlrrlrlr) -- (trlrrlrlrr);
\node [box, fill=c3] (trlrrlrr) at (5759, 1202.8) {\tleaf{9}{0, 0, 0, 9}{3}};
\draw [arr] (trlrrlr) -- (trlrrlrr);
\node [box, fill=c3!91] (trlrrr) at (5884, 946) {\tsplit{battery\_power <= 1271.0}{0.414}{24}{0, 0, 2, 22}{3}};
\draw [arr] (trlrr) -- (trlrrr);
\node [box, fill=white] (trlrrrl) at (5876, 1074.4) {\tsplit{px\_height <= 640.5}{1.0}{4}{0, 0, 2, 2}{2}};
\draw [arr] (trlrrr) -- (trlrrrl);
\node [box, fill=c2] (trlrrrll) at (5841, 1202.8) {\tleaf{2}{0, 0, 2, 0}{2}};
\draw [arr] (trlrrrl) -- (trlrrrll);
\node [box, fill=c3] (trlrrrlr) at (5921, 1202.8) {\tleaf{2}{0, 0, 0, 2}{3}};
\draw [arr] (trlrrrl) -- (trlrrrlr);
\node [box, fill=c3] (trlrrrr) at (5955, 1074.4) {\tleaf{20}{0, 0, 0, 20}{3}};
\draw [arr] (trlrrr) -- (trlrrrr);
\node [box, fill=c3!78] (trr) at (6664, 560.8) {\tsplit{battery\_power <= 1393.0}{0.686}{427}{0, 0, 78, 349}{3}};
\draw [arr] (tr) -- (trr);
\node [box, fill=c3!56] (trrl) at (6368, 689.2) {\tsplit{px\_width <= 1036.0}{0.889}{245}{0, 0, 75, 170}{3}};
\draw [arr] (trr) -- (trrl);
\node [box, fill=c2!30] (trrll) at (6071, 817.6) {\tsplit{ram <= 3365.5}{0.978}{92}{0, 0, 54, 38}{2}};
\draw [arr] (trrl) -- (trrll);
\node [box, fill=c2] (trrlll) at (6037, 946) {\tleaf{34}{0, 0, 34, 0}{2}};
\draw [arr] (trrll) -- (trrlll);
\node [box, fill=c3!47] (trrllr) at (6093, 946) {\tsplit{battery\_power <= 741.0}{0.929}{58}{0, 0, 20, 38}{3}};
\draw [arr] (trrll) -- (trrllr);
\node [box, fill=c2!78] (trrllrl) at (6037, 1074.4) {\tsplit{px\_height <= 436.0}{0.684}{22}{0, 0, 18, 4}{2}};
\draw [arr] (trrllr) -- (trrllrl);
\node [box, fill=c2] (trrllrll) at (5996, 1202.8) {\tleaf{16}{0, 0, 16, 0}{2}};
\draw [arr] (trrllrl) -- (trrllrll);
\node [box, fill=white] (trrllrlr) at (6084, 1202.8) {\tsplit{ram <= 3621.5}{1.0}{4}{0, 0, 2, 2}{2}};
\draw [arr] (trrllrl) -- (trrllrlr);
\node [box, fill=c2] (trrllrlrl) at (6043, 1331.2) {\tleaf{2}{0, 0, 2, 0}{2}};
\draw [arr] (trrllrlr) -- (trrllrlrl);
\node [box, fill=c3] (trrllrlrr) at (6123, 1331.2) {\tleaf{2}{0, 0, 0, 2}{3}};
\draw [arr] (trrllrlr) -- (trrllrlrr);
\node [box, fill=c3!94] (trrllrr) at (6200, 1074.4) {\tsplit{int\_memory <= 2.5}{0.31}{36}{0, 0, 2, 34}{3}};
\draw [arr] (trrllr) -- (trrllrr);
\node [box, fill=c2] (trrllrrl) at (6165, 1202.8) {\tleaf{1}{0, 0, 1, 0}{2}};
\draw [arr] (trrllrr) -- (trrllrrl);
\node [box, fill=c3!97] (trrllrrr) at (6239, 1202.8) {\tsplit{fc <= 11.5}{0.187}{35}{0, 0, 1, 34}{3}};
\draw [arr] (trrllrr) -- (trrllrrr);
\node [box, fill=c3] (trrllrrrl) at (6200, 1331.2) {\tleaf{33}{0, 0, 0, 33}{3}};
\draw [arr] (trrllrrr) -- (trrllrrrl);
\node [box, fill=white] (trrllrrrr) at (6285, 1331.2) {\tsplit{sc\_h <= 12.0}{1.0}{2}{0, 0, 1, 1}{2}};
\draw [arr] (trrllrrr) -- (trrllrrrr);
\node [box, fill=c2] (trrllrrrrl) at (6246, 1459.6) {\tleaf{1}{0, 0, 1, 0}{2}};
\draw [arr] (trrllrrrr) -- (trrllrrrrl);
\node [box, fill=c3] (trrllrrrrr) at (6327, 1459.6) {\tleaf{1}{0, 0, 0, 1}{3}};
\draw [arr] (trrllrrrr) -- (trrllrrrrr);
\node [box, fill=c3!84] (trrlr) at (6672, 817.6) {\tsplit{ram <= 3423.5}{0.577}{153}{0, 0, 21, 132}{3}};
\draw [arr] (trrl) -- (trrlr);
\node [box, fill=c3!54] (trrlrl) at (6637, 946) {\tsplit{px\_height <= 280.5}{0.897}{67}{0, 0, 21, 46}{3}};
\draw [arr] (trrlr) -- (trrlrl);
\node [box, fill=c2!64] (trrlrll) at (6451, 1074.4) {\tsplit{battery\_power <= 1097.0}{0.831}{19}{0, 0, 14, 5}{2}};
\draw [arr] (trrlrl) -- (trrlrll);
\node [box, fill=c2!92] (trrlrlll) at (6402, 1202.8) {\tsplit{pc <= 0.5}{0.391}{13}{0, 0, 12, 1}{2}};
\draw [arr] (trrlrll) -- (trrlrlll);
\node [box, fill=c3] (trrlrllll) at (6368, 1331.2) {\tleaf{1}{0, 0, 0, 1}{3}};
\draw [arr] (trrlrlll) -- (trrlrllll);
\node [box, fill=c2] (trrlrlllr) at (6442, 1331.2) {\tleaf{12}{0, 0, 12, 0}{2}};
\draw [arr] (trrlrlll) -- (trrlrlllr);
\node [box, fill=c3!50] (trrlrllr) at (6560, 1202.8) {\tsplit{int\_memory <= 44.5}{0.918}{6}{0, 0, 2, 4}{3}};
\draw [arr] (trrlrll) -- (trrlrllr);
\node [box, fill=c2!50] (trrlrllrl) at (6530, 1331.2) {\tsplit{talk\_time <= 11.0}{0.918}{3}{0, 0, 2, 1}{2}};
\draw [arr] (trrlrllr) -- (trrlrllrl);
\node [box, fill=c2] (trrlrllrll) at (6489, 1459.6) {\tleaf{2}{0, 0, 2, 0}{2}};
\draw [arr] (trrlrllrl) -- (trrlrllrll);
\node [box, fill=c3] (trrlrllrlr) at (6569, 1459.6) {\tleaf{1}{0, 0, 0, 1}{3}};
\draw [arr] (trrlrllrl) -- (trrlrllrlr);
\node [box, fill=c3] (trrlrllrr) at (6610, 1331.2) {\tleaf{3}{0, 0, 0, 3}{3}};
\draw [arr] (trrlrllr) -- (trrlrllrr);
\node [box, fill=c3!83] (trrlrlr) at (6777, 1074.4) {\tsplit{battery\_power <= 1008.5}{0.6}{48}{0, 0, 7, 41}{3}};
\draw [arr] (trrlrl) -- (trrlrlr);
\node [box, fill=c3!59] (trrlrlrl) at (6764, 1202.8) {\tsplit{px\_width <= 1351.5}{0.871}{24}{0, 0, 7, 17}{3}};
\draw [arr] (trrlrlr) -- (trrlrlrl);
\node [box, fill=c2!40] (trrlrlrll) at (6680, 1331.2) {\tsplit{int\_memory <= 23.0}{0.954}{8}{0, 0, 5, 3}{2}};
\draw [arr] (trrlrlrl) -- (trrlrlrll);
\node [box, fill=c2] (trrlrlrlll) at (6651, 1459.6) {\tleaf{5}{0, 0, 5, 0}{2}};
\draw [arr] (trrlrlrll) -- (trrlrlrlll);
\node [box, fill=c3] (trrlrlrllr) at (6732, 1459.6) {\tleaf{3}{0, 0, 0, 3}{3}};
\draw [arr] (trrlrlrll) -- (trrlrlrllr);
\node [box, fill=c3!86] (trrlrlrlr) at (6847, 1331.2) {\tsplit{m\_dep <= 0.75}{0.544}{16}{0, 0, 2, 14}{3}};
\draw [arr] (trrlrlrl) -- (trrlrlrlr);
\node [box, fill=c3] (trrlrlrlrl) at (6807, 1459.6) {\tleaf{12}{0, 0, 0, 12}{3}};
\draw [arr] (trrlrlrlr) -- (trrlrlrlrl);
\node [box, fill=white] (trrlrlrlrr) at (6886, 1459.6) {\tsplit{mobile\_wt <= 138.0}{1.0}{4}{0, 0, 2, 2}{2}};
\draw [arr] (trrlrlrlr) -- (trrlrlrlrr);
\node [box, fill=c3] (trrlrlrlrrl) at (6853, 1588) {\tleaf{2}{0, 0, 0, 2}{3}};
\draw [arr] (trrlrlrlrr) -- (trrlrlrlrrl);
\node [box, fill=c2] (trrlrlrlrrr) at (6935, 1588) {\tleaf{2}{0, 0, 2, 0}{2}};
\draw [arr] (trrlrlrlrr) -- (trrlrlrlrrr);
\node [box, fill=c3] (trrlrlrr) at (6848, 1202.8) {\tleaf{24}{0, 0, 0, 24}{3}};
\draw [arr] (trrlrlr) -- (trrlrlrr);
\node [box, fill=c3] (trrlrr) at (6726, 946) {\tleaf{86}{0, 0, 0, 86}{3}};
\draw [arr] (trrlr) -- (trrlrr);
\node [box, fill=c3!98] (trrr) at (7003, 689.2) {\tsplit{ram <= 3095.5}{0.121}{182}{0, 0, 3, 179}{3}};
\draw [arr] (trr) -- (trrr);
\node [box, fill=c3!75] (trrrl) at (6966, 817.6) {\tsplit{px\_width <= 1120.5}{0.722}{15}{0, 0, 3, 12}{3}};
\draw [arr] (trrr) -- (trrrl);
\node [box, fill=c2!33] (trrrll) at (6924, 946) {\tsplit{mobile\_wt <= 152.5}{0.971}{5}{0, 0, 3, 2}{2}};
\draw [arr] (trrrl) -- (trrrll);
\node [box, fill=c3] (trrrlll) at (6894, 1074.4) {\tleaf{2}{0, 0, 0, 2}{3}};
\draw [arr] (trrrll) -- (trrrlll);
\node [box, fill=c2] (trrrllr) at (6976, 1074.4) {\tleaf{3}{0, 0, 3, 0}{2}};
\draw [arr] (trrrll) -- (trrrllr);
\node [box, fill=c3] (trrrlr) at (7009, 946) {\tleaf{10}{0, 0, 0, 10}{3}};
\draw [arr] (trrrl) -- (trrrlr);
\node [box, fill=c3] (trrrr) at (7043, 817.6) {\tleaf{167}{0, 0, 0, 167}{3}};
\draw [arr] (trrr) -- (trrrr);
\end{tikzpicture}
\end{document}
